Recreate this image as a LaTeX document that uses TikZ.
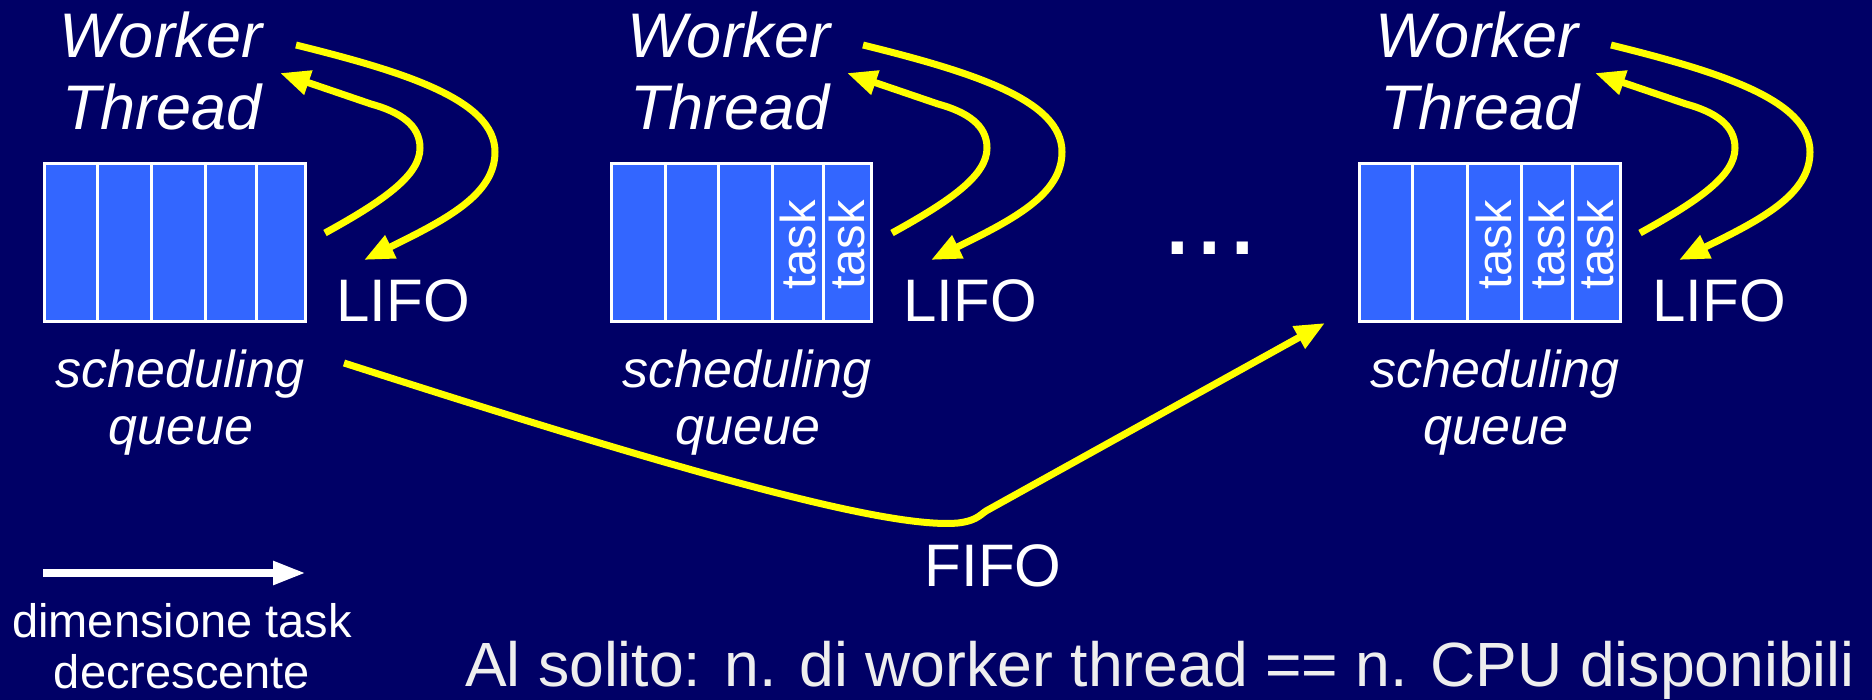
\documentclass[tikz,border=0pt]{standalone}
\usepackage{fontspec}
\setmainfont{Liberation Sans}
\usetikzlibrary{arrows.meta,calc}

\definecolor{slidebg}{HTML}{000066}
\definecolor{cellblue}{HTML}{3366FF}
\definecolor{lineyellow}{HTML}{FFFF00}
\definecolor{softwhite}{HTML}{EEEEEE}

\newcommand\setfs[1]{\fontsize{#1}{#1}\selectfont}
% one cell of a scheduling queue: name, left and right line centres
\newcommand\qcell[3]{%
  \node[cell, minimum width={#3-#2}] (#1) at ({(#2+#3)/2},242.5) {};}

\tikzset{
  lbl/.style={text=white, inner sep=0pt, anchor=base},
  worker/.style={lbl, font=\setfs{63}\itshape},
  sched/.style={lbl, font=\setfs{52}\itshape},
  plain/.style={lbl, font=\setfs{60}},
  small/.style={lbl, font=\setfs{47}},
  cell/.style={draw=white, line width=3pt, fill=cellblue,
    minimum height=158pt, inner sep=0pt, anchor=center},
  tasklbl/.style={text=white, inner sep=0pt, rotate=90, font=\setfs{49}},
  flow/.style={draw=lineyellow, line width=7pt,
    -{Triangle[length=30pt,width=24pt]}},
  sizearrow/.style={draw=white, line width=8pt,
    -{Triangle[length=33pt,width=22pt]}},
}

\begin{document}
\begin{tikzpicture}[x=1pt,y=-1pt]
  \useasboundingbox (0,0) rectangle (1872,700);
  \fill[slidebg] (0,0) rectangle (1872,700);

  % ---- queue 1 ----
  \qcell{q1c1}{44.5}{97}
  \qcell{q1c2}{97}{151}
  \qcell{q1c3}{151}{205}
  \qcell{q1c4}{205}{256}
  \qcell{q1c5}{256}{305.5}

  % ---- queue 2 ----
  \qcell{q2c1}{611.5}{665}
  \qcell{q2c2}{665}{718}
  \qcell{q2c3}{718}{772}
  \qcell{q2c4}{772}{823}
  \qcell{q2c5}{823}{871.5}
  \node[tasklbl] (t2a) at ($(q2c4.center)+(0,2.5)$) {task};
  \node[tasklbl] (t2b) at ($(q2c5.center)+(0,2.5)$) {task};

  % ---- queue 3 ----
  \qcell{q3c1}{1359.5}{1412}
  \qcell{q3c2}{1412}{1467}
  \qcell{q3c3}{1467}{1521}
  \qcell{q3c4}{1521}{1572}
  \qcell{q3c5}{1572}{1620.5}
  \node[tasklbl] (t3a) at ($(q3c3.center)+(0,2.5)$) {task};
  \node[tasklbl] (t3b) at ($(q3c4.center)+(0,2.5)$) {task};
  \node[tasklbl] (t3c) at ($(q3c5.center)+(0,2.5)$) {task};

  % ---- labels ----
  \node[worker] (w1a) at (161,58) {Worker};
  \node[worker] (w1b) at (162,130) {Thread};
  \node[worker] (w2a) at (729,58) {Worker};
  \node[worker] (w2b) at (730,130) {Thread};
  \node[worker] (w3a) at (1477,58) {Worker};
  \node[worker] (w3b) at (1480,130) {Thread};

  \node[plain] (l1) at (403,322) {LIFO};
  \node[plain] (l2) at (970,322) {LIFO};
  \node[plain] (l3) at (1719,322) {LIFO};

  \node[sched] (s1a) at (180,388) {scheduling};
  \node[sched] (s1b) at (181,445) {queue};
  \node[sched] (s2a) at (747,388) {scheduling};
  \node[sched] (s2b) at (748,445) {queue};
  \node[sched] (s3a) at (1495,388) {scheduling};
  \node[sched] (s3b) at (1496,445) {queue};

  \node[lbl, anchor=base west, font=\setfs{117}] (dots) at (1161,255) {...};
  \node[plain] (fifo) at (993,586) {FIFO};

  \node[small] (dimA) at (182,637) {dimensione task};
  \node[small] (dimB) at (182,688) {decrescente};
  \node[lbl, anchor=base west, text=softwhite, font=\setfs{62.5}] (note)
    at (465,686) {Al solito: n. di worker thread == n. CPU disponibili};

  % ---- LIFO loops between each queue and its worker ----
  \foreach \g/\dx in {1/0, 2/567, 3/1315}{
    \begin{scope}[xshift=\dx pt]
      \coordinate (pop\g s) at (325,233);
      \coordinate (pop\g e) at (280,73);
      \coordinate (push\g s) at (296,45);
      \coordinate (push\g e) at (364,260);
      \draw[flow] (pop\g s) .. controls (385,200) and (420,175) .. (420,148)
        .. controls (420,125) and (400,112) .. (371,104) -- (pop\g e);
      \draw[flow] (push\g s) .. controls (405,72) and (495,100) .. (495,152)
        .. controls (495,195) and (445,220) .. (push\g e);
    \end{scope}
  }

  % ---- FIFO steal from queue 1 to queue 3 ----
  \coordinate (steals) at (344,363);
  \coordinate (steale) at (1325,323);
  \draw[flow] (steals) .. controls (640,458) and (880,530) .. (958,523)
    .. controls (975,521) and (979,516) .. (986,511) -- (steale);

  % ---- task size legend ----
  \coordinate (sizes) at (43,573);
  \coordinate (sizee) at (306,573);
  \draw[sizearrow] (sizes) -- (sizee);
\end{tikzpicture}
\end{document}
